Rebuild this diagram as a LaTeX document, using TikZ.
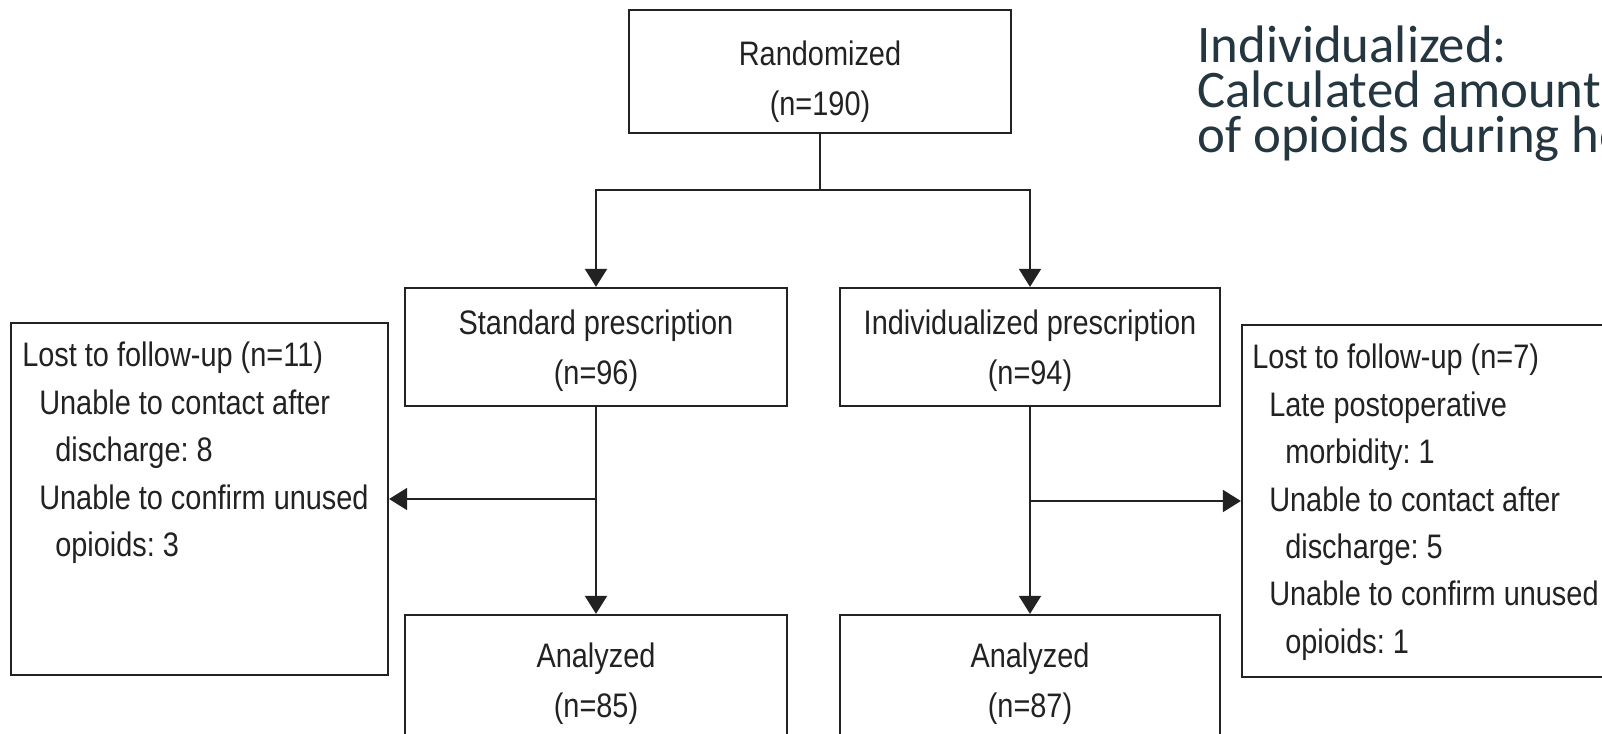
\documentclass[tikz,border=0pt]{standalone}
\usepackage{fontspec}
\setmainfont{Liberation Sans}[FakeStretch=0.85]
\newfontfamily\notefont{Carlito}
\usepackage{xcolor}
\usepackage{tikz}
\usetikzlibrary{arrows.meta,positioning}
\definecolor{Ink}{HTML}{222222}
\definecolor{Slate}{HTML}{243640}
\frenchspacing
\tikzset{
  box/.style={
    draw=Ink, line width=1.1pt, align=center, inner sep=0pt, text depth=0pt,
    text=Ink, font=\fontsize{17}{25}\selectfont
  },
  lostbox/.style={draw=Ink, line width=1.1pt, inner sep=0pt, minimum height=176pt},
  losttext/.style={align=left, inner sep=0pt, text=Ink, font=\fontsize{17}{23.7}\selectfont},
  link/.style={line width=.9pt, draw=Ink},
  arr/.style={-{Triangle[length=9pt,width=11pt]}, line width=.9pt, draw=Ink},
  note/.style={align=left, inner sep=0pt, text=Slate,
    font=\notefont\fontsize{26.4}{22.5}\selectfont\setlength{\lineskiplimit}{-30pt}}
}

\begin{document}
\begin{tikzpicture}[x=0.5pt,y=-0.5pt]
  \useasboundingbox (0,0) rectangle (1602,734);
  \clip (0,0) rectangle (1602,734);
  % arms of the trial
  \node[box,text height=43.5pt,minimum width=191pt,minimum height=61.5pt] (rand) at (820,71.5) {Randomized\\(n=190)};
  \node[box,minimum width=191pt,minimum height=59pt] (std) at (596,347) {Standard prescription\\(n=96)};
  \node[box,minimum width=190pt,minimum height=59pt] (ind) at (1030,347) {Individualized prescription\\(n=94)};
  \node[box,minimum width=191pt,minimum height=65pt] (anaS) at (596,680) {Analyzed\\(n=85)};
  \node[box,minimum width=190pt,minimum height=65pt] (anaI) at (1030,680) {Analyzed\\(n=87)};
  % losses
  \node[lostbox,minimum width=188.5pt] (lostL) at (199.5,499) {};
  \node[lostbox,minimum width=209pt] (lostR) at (1451,501) {};
  \node[losttext,below right=10pt and 6pt of lostL.north west] (lostLtxt)
    {Lost to follow-up (n=11)\\
     \hspace*{8.5pt}Unable to contact after\\
     \hspace*{16.5pt}discharge: 8\\
     \hspace*{8.5pt}Unable to confirm unused\\
     \hspace*{16.5pt}opioids: 3};
  \node[losttext,below right=10pt and 5.5pt of lostR.north west] (lostRtxt)
    {Lost to follow-up (n=7)\\
     \hspace*{8.5pt}Late postoperative\\
     \hspace*{16.5pt}morbidity: 1\\
     \hspace*{8.5pt}Unable to contact after\\
     \hspace*{16.5pt}discharge: 5\\
     \hspace*{8.5pt}Unable to confirm unused\\
     \hspace*{16.5pt}opioids: 1};
  \node[note,anchor=north west] (memo) at (1197,25)
    {Individualized:\\Calculated amount\\of opioids during ho};
  % connectors
  \coordinate[below=28pt of rand.south] (split);
  \coordinate (sideL) at (std.south |- lostL.east);
  \coordinate (sideR) at (ind.south |- lostR.west);
  \draw[link] (rand.south) -- (split);
  \draw[arr] (split) -| (std.north);
  \draw[arr] (split) -| (ind.north);
  \draw[arr] (std.south) -- (anaS.north);
  \draw[arr] (ind.south) -- (anaI.north);
  \draw[arr] (sideL) -- (lostL.east);
  \draw[arr] (sideR) -- (lostR.west);
\end{tikzpicture}
\end{document}
